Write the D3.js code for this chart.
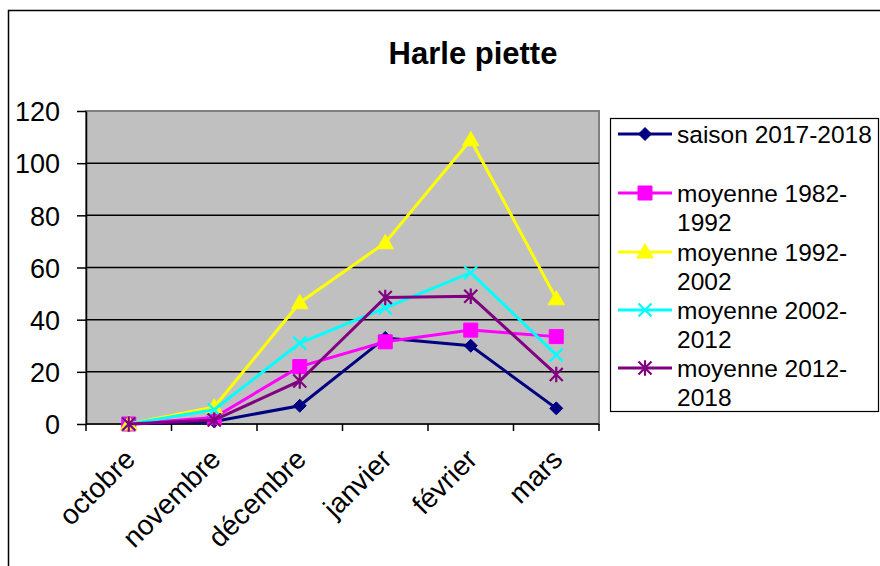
<!DOCTYPE html>
<html>
<head>
<meta charset="utf-8">
<script src="https://cdn.jsdelivr.net/npm/d3@7"></script>
<style>
  body { margin: 0; background: #fff; }
  text { font-family: "Liberation Sans", Arial, sans-serif; fill: #000; }
</style>
</head>
<body>
<div class="chart"></div>
<script>
// Harle piette - monthly counts per season

var months = ["octobre", "novembre", "décembre", "janvier", "février", "mars"];
var yTicks = [0, 20, 40, 60, 80, 100, 120];

var saison2017 = [0, 1, 7, 33, 30, 6];
var moy1982 = [0, 2.5, 22, 31.5, 36, 33.5];
var moy1992 = [0, 6.5, 46.5, 69.5, 109, 48];
var moy2002 = [0, 5.5, 31, 44.5, 58, 26.5];
var moy2012 = [0, 1.5, 16.5, 48.5, 49, 19];

var seriesNames = [
    ["saison 2017-2018"],
    ["moyenne 1982-", "1992"],
    ["moyenne 1992-", "2002"],
    ["moyenne 2002-", "2012"],
    ["moyenne 2012-", "2018"]
];
var seriesColors = ["#000080", "#ff00ff", "#ffff00", "#00ffff", "#800080"];
var seriesMarkers = ["diamond", "square", "triangle", "cross", "star"];
var seriesValues = [saison2017, moy1982, moy1992, moy2002, moy2012];

var svgWidth = 880;
var svgHeight = 566;

var plot = { left: 86, right: 599, top: 111, bottom: 424 };

var svg = d3.select(".chart")
    .append("svg")
    .attr("width", svgWidth)
    .attr("height", svgHeight);

// outer chart frame (runs off the right and bottom)
svg.append("rect")
    .attr("x", 8.5)
    .attr("y", 10.5)
    .attr("width", 900)
    .attr("height", 600)
    .attr("fill", "#fff")
    .attr("stroke", "#000")
    .attr("stroke-width", 1.5);

// title
svg.append("text")
    .attr("x", 473)
    .attr("y", 64)
    .attr("text-anchor", "middle")
    .style("font-size", "31px")
    .style("font-weight", "bold")
    .text("Harle piette");

// scales
var xBand = d3.scaleBand()
    .domain(months)
    .range([plot.left, plot.right])
    .paddingInner(0)
    .paddingOuter(0);

var yScale = d3.scaleLinear()
    .domain([0, 120])
    .range([plot.bottom, plot.top]);

function xCenter(m) {
    return xBand(m) + xBand.bandwidth() / 2;
}

// plot area
svg.append("rect")
    .attr("x", plot.left)
    .attr("y", plot.top)
    .attr("width", plot.right - plot.left)
    .attr("height", plot.bottom - plot.top)
    .attr("fill", "#c0c0c0")
    .attr("stroke", "#808080")
    .attr("stroke-width", 2);

// gridlines
svg.append("g")
    .selectAll("line")
    .data(yTicks.filter(d => d > 0 && d < 120))
    .enter()
    .append("line")
    .attr("x1", plot.left)
    .attr("x2", plot.right)
    .attr("y1", d => yScale(d))
    .attr("y2", d => yScale(d))
    .attr("stroke", "#000")
    .attr("stroke-width", 1.5);

// y axis
var leftAxis = d3.axisLeft(yScale)
    .tickValues(yTicks)
    .tickSize(9)
    .tickSizeOuter(0)
    .tickPadding(17);

var yAxisG = svg.append("g")
    .attr("transform", `translate(${plot.left}, 0)`)
    .call(leftAxis);
yAxisG.select(".domain").attr("stroke", "#000").attr("stroke-width", 1.5);
yAxisG.selectAll(".tick line").attr("stroke", "#000").attr("stroke-width", 1.5);
yAxisG.selectAll(".tick text")
    .style("font-size", "27px")
    .attr("font-family", null)
    .attr("dy", "0.36em");

// x axis: ticks between categories
svg.append("line")
    .attr("x1", plot.left)
    .attr("x2", plot.right)
    .attr("y1", plot.bottom)
    .attr("y2", plot.bottom)
    .attr("stroke", "#000")
    .attr("stroke-width", 1.5);

var boundaries = months.map(m => xBand(m)).concat([plot.right]);
svg.append("g")
    .selectAll("line")
    .data(boundaries)
    .enter()
    .append("line")
    .attr("x1", d => d)
    .attr("x2", d => d)
    .attr("y1", plot.bottom)
    .attr("y2", plot.bottom + 7)
    .attr("stroke", "#000")
    .attr("stroke-width", 1.5);

svg.append("g")
    .selectAll("text")
    .data(months)
    .enter()
    .append("text")
    .attr("transform", d => `translate(${xCenter(d) + 8}, 461) rotate(-45)`)
    .attr("text-anchor", "end")
    .style("font-size", "28px")
    .text(d => d);

// marker shapes
function markerPath(type, s) {
    var h = s / 2;
    if (type === "diamond") return `M0,${-h}L${h},0L0,${h}L${-h},0Z`;
    if (type === "square") return `M${-h},${-h}H${h}V${h}H${-h}Z`;
    if (type === "triangle") return `M0,${-h * 1.1}L${h * 1.1},${h * 0.8}L${-h * 1.1},${h * 0.8}Z`;
    if (type === "cross") return `M${-h},${-h}L${h},${h}M${-h},${h}L${h},${-h}`;
    // star: X plus vertical bar
    return `M${-h},${-h}L${h},${h}M${-h},${h}L${h},${-h}M0,${-h * 1.2}V${h * 1.2}`;
}
var markerSize = { diamond: 13, square: 14, triangle: 15, cross: 13, star: 13 };

function drawMarker(g, type, color, x, y) {
    var filled = type === "diamond" || type === "square" || type === "triangle";
    g.append("path")
        .attr("transform", `translate(${x}, ${y})`)
        .attr("d", markerPath(type, markerSize[type]))
        .attr("fill", filled ? color : "none")
        .attr("stroke", color)
        .attr("stroke-width", filled ? 1 : 2.2);
}

// lines and markers
var line = d3.line()
    .x((d, i) => xCenter(months[i]))
    .y(d => yScale(d));

seriesValues.forEach(function (vals, s) {
    var g = svg.append("g");
    g.append("path")
        .attr("d", line(vals))
        .attr("fill", "none")
        .attr("stroke", seriesColors[s])
        .attr("stroke-width", 3);
    vals.forEach(function (v, i) {
        drawMarker(g, seriesMarkers[s], seriesColors[s], xCenter(months[i]), yScale(v));
    });
});

// legend
var legend = svg.append("g");
legend.append("rect")
    .attr("x", 610.5)
    .attr("y", 118.5)
    .attr("width", 268)
    .attr("height", 293)
    .attr("fill", "#fff")
    .attr("stroke", "#000")
    .attr("stroke-width", 1.2);

var legendRowY = [134, 193, 252, 310, 368];
var lineGap = 29;

seriesNames.forEach(function (lines, s) {
    var cy = legendRowY[s];
    legend.append("line")
        .attr("x1", 618)
        .attr("x2", 672)
        .attr("y1", cy)
        .attr("y2", cy)
        .attr("stroke", seriesColors[s])
        .attr("stroke-width", 3);
    drawMarker(legend, seriesMarkers[s], seriesColors[s], 645, cy);
    lines.forEach(function (t, k) {
        legend.append("text")
            .attr("x", 677)
            .attr("y", cy + 8.5 + k * lineGap)
            .style("font-size", "24.5px")
            .text(t);
    });
});
</script>
</body>
</html>
